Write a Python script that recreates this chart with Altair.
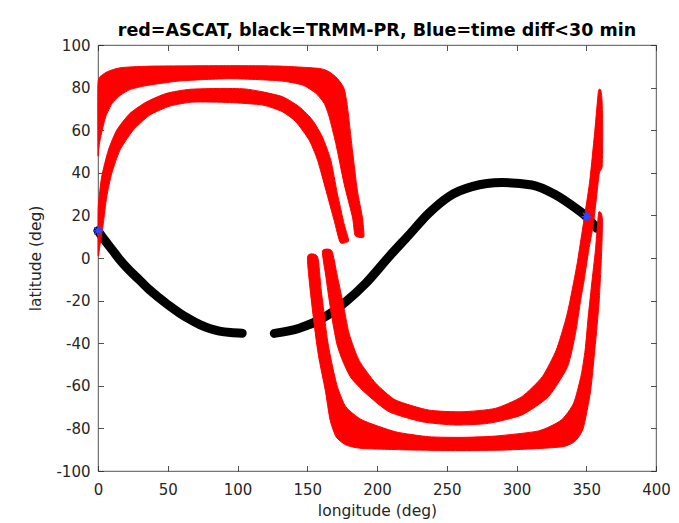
import altair as alt
import pandas as pd

# ---------------- data ----------------
# ASCAT swath 1 (inner upper band), outline lon / lat
band1_lon = [0.0, 0.0, 0.2, 2.6, 7.4, 13.4, 22.9, 34.8, 49.1, 65.7, 87.1, 105.0, 118.1, 132.4,
             144.3, 153.8, 160.9, 166.9, 171.6, 176.4, 179.5, 179.0,
             173.6, 169.3, 163.4, 157.4, 151.4, 141.9, 132.4, 118.1, 94.3, 68.1, 51.4, 37.1,
             25.2, 15.7, 9.8, 6.2, 3.8, 1.4, 0.4]
band1_lat = [1.2, 3.5, 23.9, 38.0, 50.6, 60.0, 67.9, 73.3, 77.3, 79.2, 79.6, 79.4, 78.0, 75.7,
             71.0, 64.7, 56.8, 45.9, 30.2, 16.1, 9.0, 7.6,
             7.3, 17.6, 31.8, 45.9, 55.3, 63.9, 68.6, 71.8, 73.0, 73.2, 71.3, 67.1,
             60.0, 50.6, 39.6, 28.6, 16.1, 5.9, 1.0]

# ASCAT swath 2 (outer upper band)
band2_lon = [0.0, 0.0, 3.1, 6.6, 11.4, 18.6, 40.0, 94.3, 130.0, 158.6, 165.7, 171.6, 176.4,
             178.8, 182.4, 185.9, 189.5, 190.7, 189.5,
             184.3, 182.4, 176.4, 170.5, 165.7, 162.1, 156.2, 146.6, 130.0, 94.3, 60.0, 40.0,
             32.9, 23.4, 16.2, 10.2, 5.5, 1.9, 0.4]
band2_lat = [49.0, 82.0, 85.9, 87.4, 88.6, 89.5, 90.1, 90.3, 90.1, 89.0, 87.4, 84.3, 79.6,
             71.0, 50.6, 31.8, 19.2, 10.6, 9.6,
             10.6, 19.2, 34.9, 53.7, 66.3, 72.6, 77.3, 81.2, 83.2, 84.2, 83.2, 81.5,
             80.7, 79.2, 76.5, 72.6, 66.3, 56.8, 50.6]

# ASCAT swath 3 (inner lower band)
band3_lon = [160.9, 163.2, 165.7, 168.6, 171.4, 175.7, 181.4, 191.9, 208.6, 232.4, 256.2, 280.0,
             303.8, 322.9, 336.6, 342.3, 346.0, 348.5, 351.8, 355.0, 357.4, 358.9, 359.6, 361.4,
             361.8, 361.3, 360.4,
             358.9, 358.1, 356.2, 352.6, 349.1, 343.5, 338.5, 335.2, 328.5, 318.5, 303.8, 284.8,
             260.9, 237.1, 213.4, 199.1, 187.1, 180.0, 175.2, 171.4, 167.6]
band3_lat = [3.3, -8.0, -19.7, -31.5, -40.8, -48.8, -56.3, -63.5, -72.2, -76.9, -78.4, -77.6,
             -73.7, -65.1, -51.0, -35.4, -19.7, -10.3, 3.8, 15.5, 28.8, 37.6, 40.4, 43.2,
             60.1, 74.2, 78.9,
             78.9, 74.2, 60.1, 36.6, 21.0, -2.5, -19.7, -29.1, -43.2, -55.7, -65.1, -70.6,
             -72.2, -71.4, -66.7, -58.8, -48.0, -35.4, -19.7, -8.0, 3.4]

# ASCAT swath 4 (outer lower band)
band4_lon = [150.2, 152.9, 156.4, 158.6, 162.9, 166.4, 170.7, 177.9, 189.3, 222.9, 256.2, 294.3,
             332.1, 342.1, 347.9, 353.2, 356.8, 359.3, 361.1, 361.6, 360.7,
             358.8, 356.6, 353.8, 351.2, 349.2, 346.4, 341.0, 332.1, 315.7, 284.8, 260.9, 237.1,
             213.4, 189.5, 177.6, 171.6, 167.9, 164.5, 160.0, 157.4]
band4_lat = [0.6, -19.7, -38.5, -47.9, -62.0, -76.1, -84.0, -87.8, -89.4, -90.1, -90.4, -90.1,
             -88.7, -85.9, -79.8, -62.0, -38.5, -19.7, 3.8, 17.8, 21.0,
             21.0, 3.8, -12.7, -29.1, -43.2, -54.9, -68.1, -76.1, -81.2, -83.6, -84.2, -83.9,
             -81.6, -76.1, -69.8, -60.4, -50.2, -38.5, -15.0, 0.6]

# TRMM-PR track, two pieces
trmm1_lon = [0.0, 5.0, 10.0, 15.7, 22.0, 30.0, 37.0, 44.0, 51.0, 58.6, 65.0, 73.0, 80.0, 87.0,
             95.0, 103.4]
trmm1_lat = [12.8, 8.2, 4.0, -0.9, -5.5, -10.5, -15.0, -18.8, -22.4, -25.9, -28.5, -31.3, -33.1,
             -34.3, -35.0, -35.3]
trmm2_lon = [126.4, 144.3, 160.9, 177.6, 191.9, 208.6, 222.9, 237.1, 251.4, 268.1, 289.5, 311.0,
             327.6, 341.9, 350.2, 357.4]
trmm2_lat = [-35.4, -33.0, -28.3, -20.5, -11.9, 0.6, 10.8, 21.0, 28.8, 33.5, 35.4, 34.3, 29.8,
             23.6, 19.4, 14.0]

# coincidences (time diff < 30 min)
match_lon = [0.0, 350.2]
match_lat = [12.8, 19.4]

x_ticks = [0, 50, 100, 150, 200, 250, 300, 350, 400]
y_ticks = [-100, -80, -60, -40, -20, 0, 20, 40, 60, 80, 100]

# ---------------- tables ----------------
red_rows = []
for name, lons, lats in [("s1", band1_lon, band1_lat), ("s2", band2_lon, band2_lat),
                         ("s3", band3_lon, band3_lat), ("s4", band4_lon, band4_lat)]:
    for i, (a, b) in enumerate(zip(lons, lats)):
        red_rows.append({"band": name, "i": i, "lon": a, "lat": b})
red_df = pd.DataFrame(red_rows)

blk_rows = []
for name, lons, lats in [("t1", trmm1_lon, trmm1_lat), ("t2", trmm2_lon, trmm2_lat)]:
    for i, (a, b) in enumerate(zip(lons, lats)):
        blk_rows.append({"seg": name, "i": i, "lon": a, "lat": b})
blk_df = pd.DataFrame(blk_rows)

star_df = pd.DataFrame({"lon": match_lon, "lat": match_lat})

# ---------------- styling ----------------
AX = "#262626"
FONT = "DejaVu Sans"
TL = 5.5
LBL = "'' + datum.value"

xscale = alt.Scale(domain=[0, 400], nice=False, zero=False)
yscale = alt.Scale(domain=[-100, 100], nice=False, zero=False)

x_axis = alt.Axis(orient="bottom", values=x_ticks, offset=-TL, tickSize=TL, domain=False,
                  grid=False, labelPadding=11.5, labelFontSize=15, labelFont=FONT,
                  labelColor=AX, tickColor=AX, tickWidth=0.8, labelFlush=False,
                  labelOverlap=False, labelExpr=LBL, title="longitude (deg)", titleFont=FONT,
                  titleFontSize=15.5, titleFontWeight="normal", titleColor=AX,
                  titleBaseline="alphabetic", titleY=49.5)
y_axis = alt.Axis(orient="left", values=y_ticks, offset=-TL, tickSize=TL, domain=False,
                  grid=False, labelPadding=8, labelFontSize=15, labelFont=FONT,
                  labelColor=AX, tickColor=AX, tickWidth=0.8, labelFlush=False,
                  labelOverlap=False, labelExpr=LBL, title="latitude (deg)", titleFont=FONT,
                  titleFontSize=15.5, titleFontWeight="normal", titleColor=AX,
                  titleBaseline="alphabetic", titleX=-63.5)
top_axis = alt.Axis(orient="top", values=x_ticks, offset=-TL, tickSize=TL, domain=False,
                    grid=False, labels=False, tickColor=AX, tickWidth=0.8)
right_axis = alt.Axis(orient="right", values=y_ticks, offset=-TL, tickSize=TL, domain=False,
                      grid=False, labels=False, tickColor=AX, tickWidth=0.8)

black = alt.Chart(blk_df).mark_line(
    color="#000000", strokeWidth=9, strokeCap="round", strokeJoin="round",
    interpolate="monotone"
).encode(
    x=alt.X("lon:Q", scale=xscale, axis=x_axis),
    y=alt.Y("lat:Q", scale=yscale, axis=y_axis),
    detail="seg:N",
    order="i:Q",
)

red = alt.Chart(red_df).mark_line(
    fill="#ff0000", stroke="#ff0000", strokeWidth=1, interpolate="cardinal-closed",
    tension=0.4
).encode(
    x=alt.X("lon:Q", scale=xscale),
    y=alt.Y("lat:Q", scale=yscale),
    detail="band:N",
    order="i:Q",
)

ASTERISK = "M-1,0L1,0M0,-1L0,1M-0.72,-0.72L0.72,0.72M-0.72,0.72L0.72,-0.72"
stars = alt.Chart(star_df).mark_point(
    shape=ASTERISK, size=100, filled=False, stroke="#2a4bff", strokeWidth=1.4, opacity=1
).encode(
    x=alt.X("lon:Q", scale=xscale, axis=top_axis, title=None),
    y=alt.Y("lat:Q", scale=yscale, axis=right_axis, title=None),
)

inner = alt.layer(black, red)

chart = alt.layer(inner, stars).resolve_scale(
    x="independent", y="independent"
).properties(
    width=558,
    height=426,
    title=alt.TitleParams(
        "red=ASCAT, black=TRMM-PR, Blue=time diff<30 min",
        font=FONT, fontSize=17.5, fontWeight="bold", color="#000000",
        anchor="middle", baseline="alphabetic", frame="group", offset=-15.5,
    ),
    autosize=alt.AutoSizeParams(type="none"),
    padding={"left": 90, "top": 37, "right": 15, "bottom": 50},
    background="#ffffff",
).configure_view(
    stroke=AX, strokeWidth=0.8
)

chart.save("out.html", embed_options={"renderer": "svg", "actions": False})
